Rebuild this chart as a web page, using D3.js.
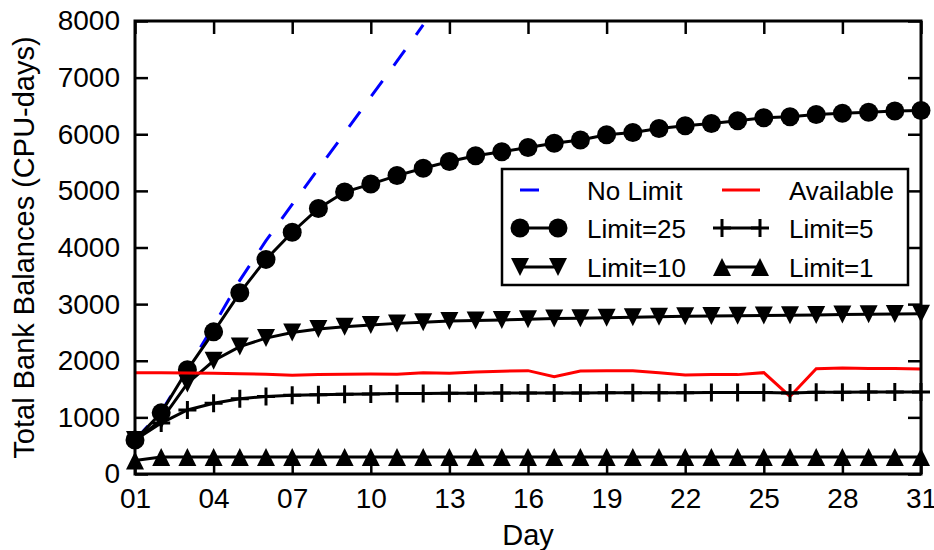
<!DOCTYPE html>
<html>
  <head>
    <meta charset="utf-8">
    <title>Total Bank Balances</title>
    <script src="https://d3js.org/d3.v7.min.js"></script>
    <style>
      body { margin: 0; background: #fff; }
      svg { display: block; font-family: "Liberation Sans", Arial, Helvetica, sans-serif; }
    </style>
  </head>
  <body>
    <svg width="934" height="550"></svg>
    <script>
      // Data
      const days = [1, 2, 3, 4, 5, 6, 7, 8, 9, 10, 11, 12, 13, 14, 15, 16,
        17, 18, 19, 20, 21, 22, 23, 24, 25, 26, 27, 28, 29, 30, 31];
      const noLimitDays = [1, 2, 3, 4, 5, 6, 7, 8, 9, 10, 11, 12];
      const noLimit = [600, 1100, 1850, 2620, 3420, 4120, 4760, 5390, 6020, 6660, 7290, 7930];
      const limit25 = [600, 1080, 1840, 2510, 3200, 3790, 4270, 4690, 4980, 5120, 5270, 5400,
        5520, 5620, 5690, 5765, 5840, 5900, 5990, 6030, 6100, 6150, 6190, 6240, 6290,
        6310, 6350, 6370, 6390, 6410, 6420];
      const limit10 = [600, 950, 1600, 2000, 2250, 2400, 2500, 2560, 2600, 2630, 2660, 2680,
        2700, 2710, 2720, 2735, 2745, 2750, 2760, 2770, 2775, 2785, 2790, 2795, 2800,
        2805, 2810, 2815, 2820, 2825, 2830];
      const available = [1790, 1790, 1785, 1780, 1770, 1760, 1745, 1755, 1760, 1765, 1760, 1790,
        1780, 1800, 1815, 1825, 1720, 1820, 1825, 1825, 1790, 1750, 1755, 1755, 1790,
        1370, 1860, 1870, 1865, 1865, 1855];
      const limit5 = [600, 900, 1130, 1250, 1330, 1370, 1390, 1400, 1410, 1415, 1420, 1420,
        1425, 1425, 1430, 1430, 1430, 1430, 1435, 1435, 1435, 1435, 1440, 1440, 1440,
        1430, 1445, 1445, 1450, 1450, 1450];
      const limit1 = [240, 300, 300, 300, 300, 300, 300, 300, 300, 300, 300, 300,
        300, 300, 300, 300, 300, 300, 300, 300, 300, 300, 300, 300, 300,
        300, 300, 300, 300, 300, 300];
      const xTicks = [1, 4, 7, 10, 13, 16, 19, 22, 25, 28, 31];
      const yTicks = [0, 1000, 2000, 3000, 4000, 5000, 6000, 7000, 8000];

      // Chart box
      const plotLeft = 135, plotRight = 921, plotTop = 21, plotBottom = 474;

      const x = d3.scaleLinear().domain([1, 31]).range([plotLeft, plotRight]);
      const y = d3.scaleLinear().domain([0, 8000]).range([plotBottom, plotTop]);

      const svg = d3.select("svg");

      // Axes, ticks pointing inward on all four sides
      const gx = svg.append("g")
        .attr("transform", `translate(0,${plotBottom})`)
        .call(d3.axisBottom(x).tickValues(xTicks).tickFormat(d3.format("02d"))
          .tickSizeInner(-13).tickSizeOuter(0).tickPadding(14));
      const gy = svg.append("g")
        .attr("transform", `translate(${plotLeft},0)`)
        .call(d3.axisLeft(y).tickValues(yTicks).tickFormat(d3.format("d"))
          .tickSizeInner(-13).tickSizeOuter(0).tickPadding(15));
      const gt = svg.append("g")
        .attr("transform", `translate(0,${plotTop})`)
        .call(d3.axisTop(x).tickValues(xTicks).tickFormat("").tickSizeInner(-13).tickSizeOuter(0));
      const gr = svg.append("g")
        .attr("transform", `translate(${plotRight},0)`)
        .call(d3.axisRight(y).tickValues(yTicks).tickFormat("").tickSizeInner(-13).tickSizeOuter(0));

      [gx, gy, gt, gr].forEach(g => {
        g.select(".domain").remove();
        g.selectAll(".tick line").attr("stroke", "#000").attr("stroke-width", 2.5);
        g.selectAll(".tick text").attr("fill", "#000").attr("font-size", 28)
          .attr("font-family", "Liberation Sans, Arial, sans-serif");
      });

      // Axis titles
      svg.append("text")
        .attr("x", (plotLeft + plotRight) / 2).attr("y", 545)
        .attr("text-anchor", "middle").attr("font-size", 29)
        .text("Day");
      svg.append("text")
        .attr("transform", `translate(34,${(plotTop + plotBottom) / 2}) rotate(-90)`)
        .attr("text-anchor", "middle").attr("font-size", 29)
        .text("Total Bank Balances (CPU-days)");

      // Marker shapes
      function marker(g, type, cx, cy) {
        if (type === "circle") {
          g.append("circle").attr("cx", cx).attr("cy", cy).attr("r", 9.5).attr("fill", "#000");
        } else if (type === "down") {
          g.append("path").attr("d", `M${cx - 9},${cy - 9}L${cx + 9},${cy - 9}L${cx},${cy + 9}Z`)
            .attr("fill", "#000");
        } else if (type === "up") {
          g.append("path").attr("d", `M${cx - 9},${cy + 9}L${cx + 9},${cy + 9}L${cx},${cy - 9}Z`)
            .attr("fill", "#000");
        } else if (type === "plus") {
          g.append("path").attr("d", `M${cx - 9},${cy}H${cx + 9}M${cx},${cy - 9}V${cy + 9}`)
            .attr("stroke", "#000").attr("stroke-width", 3);
        }
      }

      const series = [
        { name: "No Limit", xs: noLimitDays, ys: noLimit, color: "#0000ff", dash: "19,19", mark: null },
        { name: "Limit=25", xs: days, ys: limit25, color: "#000", dash: null, mark: "circle" },
        { name: "Limit=10", xs: days, ys: limit10, color: "#000", dash: null, mark: "down" },
        { name: "Available", xs: days, ys: available, color: "#ff0000", dash: null, mark: null },
        { name: "Limit=5", xs: days, ys: limit5, color: "#000", dash: null, mark: "plus" },
        { name: "Limit=1", xs: days, ys: limit1, color: "#000", dash: null, mark: "up" }
      ];

      const line = d3.line().x(d => x(d[0])).y(d => y(d[1]));

      series.forEach(s => {
        const pts = s.xs.map((d, i) => [d, s.ys[i]]);
        const g = svg.append("g");
        g.append("path")
          .datum(pts)
          .attr("d", line)
          .attr("fill", "none")
          .attr("stroke", s.color)
          .attr("stroke-width", 3)
          .attr("stroke-dasharray", s.dash);
        if (s.mark) pts.forEach(p => marker(g, s.mark, x(p[0]), y(p[1])));
      });

      // Frame
      svg.append("rect")
        .attr("x", plotLeft).attr("y", plotTop)
        .attr("width", plotRight - plotLeft).attr("height", plotBottom - plotTop)
        .attr("fill", "none").attr("stroke", "#000").attr("stroke-width", 3);

      // Legend (gnuplot fills columns first)
      const lg = svg.append("g");
      lg.append("rect")
        .attr("x", 502).attr("y", 169).attr("width", 406).attr("height", 116)
        .attr("fill", "#fff").attr("stroke", "#000").attr("stroke-width", 2.5);
      const colX = [520, 722];
      const rowY = [190, 228, 267];
      series.forEach((s, i) => {
        const c = Math.floor(i / 3), r = i % 3;
        const x0 = colX[c], x1 = colX[c] + 38, yy = rowY[r];
        lg.append("line")
          .attr("x1", x0).attr("x2", x1).attr("y1", yy).attr("y2", yy)
          .attr("stroke", s.color).attr("stroke-width", 3)
          .attr("stroke-dasharray", s.dash);
        if (s.mark) { marker(lg, s.mark, x0, yy); marker(lg, s.mark, x1, yy); }
        lg.append("text")
          .attr("x", x1 + 29).attr("y", yy + 9.5)
          .attr("font-size", 26)
          .text(s.name);
      });
    </script>
  </body>
</html>
